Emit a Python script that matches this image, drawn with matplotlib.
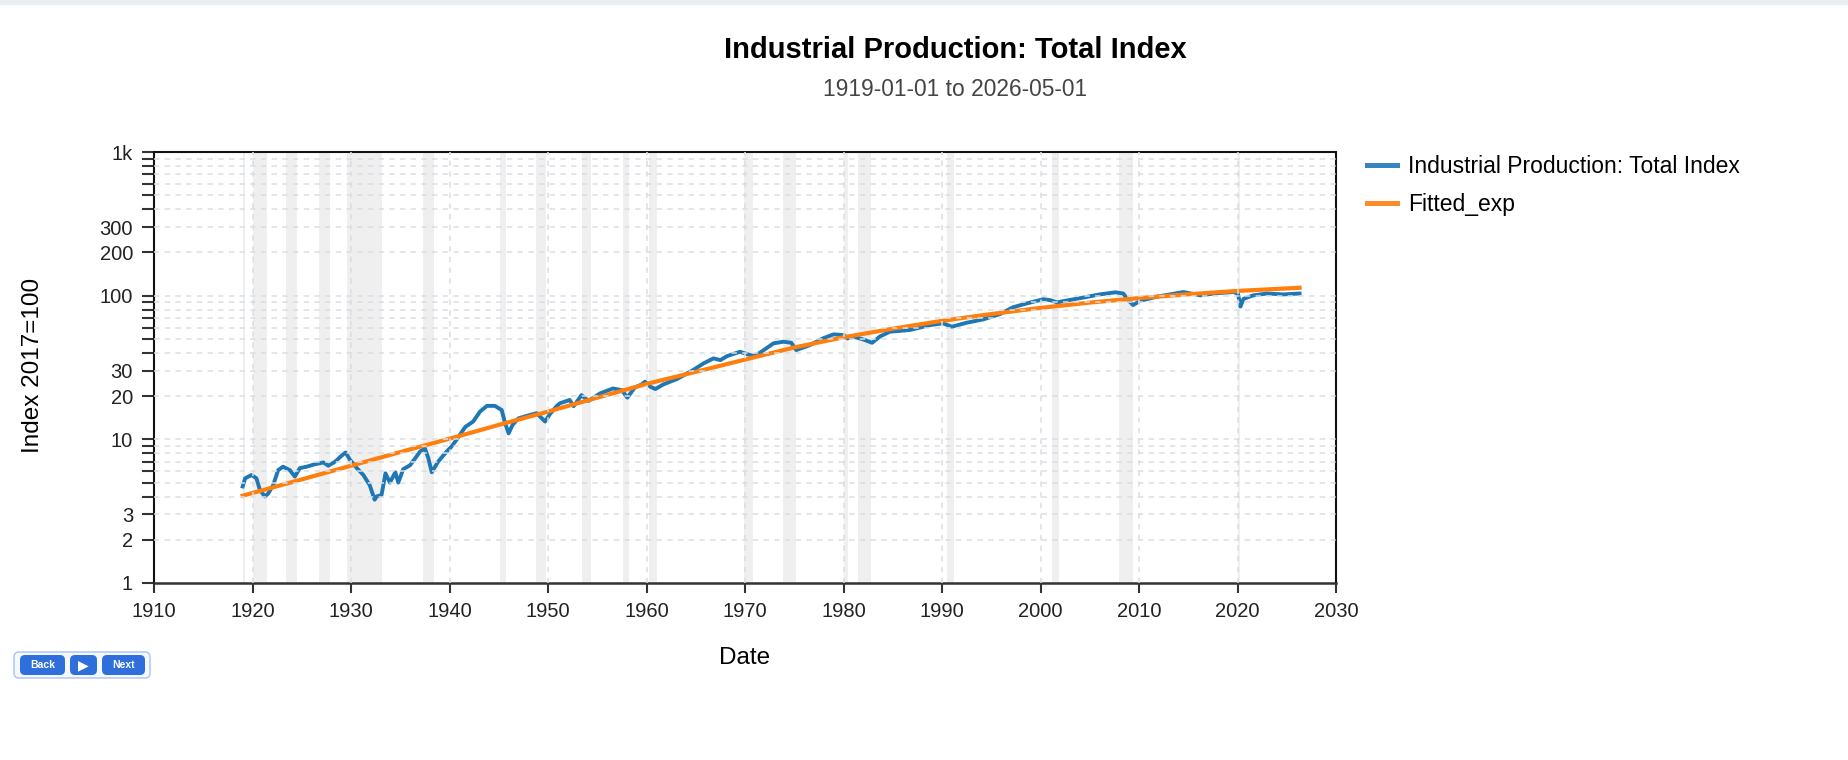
import numpy as np
import matplotlib.pyplot as plt
from matplotlib.lines import Line2D
from matplotlib.patches import FancyBboxPatch, Rectangle

plt.rcParams['font.family'] = ['Liberation Sans', 'DejaVu Sans']

# values (decimal years, index 2017=100)
ip_years = [1919.0, 1919.25, 1919.9, 1920.4, 1920.75, 1921.25, 1921.6, 1922.1, 1922.6, 1923.1,
            1923.8, 1924.3, 1924.8, 1925.5, 1926.3, 1927.2, 1927.7, 1928.4, 1929.05, 1929.45,
            1929.9, 1930.6, 1931.25, 1931.9, 1932.4, 1932.6, 1933.1, 1933.5, 1933.95, 1934.5,
            1934.8, 1935.3, 1936.0, 1937.0, 1937.5, 1937.85, 1938.2, 1938.85, 1939.7, 1940.2,
            1940.7, 1941.6, 1942.4, 1943.1, 1943.8, 1944.6, 1945.3, 1945.6, 1946.0, 1946.4,
            1947.0, 1948.2, 1948.85, 1949.7, 1950.2, 1950.9, 1951.2, 1952.2, 1952.6, 1953.4,
            1954.1, 1955.3, 1956.6, 1957.5, 1958.05, 1958.8, 1959.5, 1959.85, 1960.4, 1960.9,
            1961.7, 1963.1, 1964.75, 1965.8, 1966.8, 1967.5, 1968.2, 1969.5, 1970.3, 1970.9,
            1971.5, 1972.9, 1973.9, 1974.7, 1975.2, 1976.6, 1977.9, 1979.0, 1980.0, 1980.4,
            1981.0, 1982.0, 1982.9, 1983.7, 1984.7, 1986.75, 1988.8, 1990.1, 1991.0, 1992.5,
            1994.2, 1995.9, 1997.2, 1998.6, 2000.3, 2001.0, 2001.7, 2002.65, 2004.35, 2006.0,
            2007.6, 2008.4, 2008.9, 2009.4, 2010.1, 2011.8, 2014.5, 2016.2, 2017.9, 2019.6,
            2020.05, 2020.3, 2020.6, 2021.6, 2023.0, 2024.65, 2026.3]
ip_values = [4.7, 5.35, 5.65, 5.35, 4.45, 4.0, 4.2, 4.8, 6.1, 6.45,
             6.1, 5.5, 6.3, 6.45, 6.7, 6.9, 6.55, 7.0, 7.7, 8.1,
             7.2, 6.3, 5.65, 4.8, 3.8, 4.0, 4.1, 5.8, 5.0, 5.9,
             5.0, 6.2, 6.6, 8.2, 8.65, 7.4, 5.9, 7.0, 8.2, 8.9,
             9.9, 12.2, 13.3, 15.6, 17.1, 17.1, 16.0, 13.3, 11.0, 12.6,
             14.0, 14.8, 15.2, 13.3, 15.0, 17.1, 17.8, 18.8, 17.0, 20.3,
             18.5, 20.9, 22.6, 22.0, 19.5, 22.9, 24.1, 25.2, 23.2, 22.4,
             24.1, 26.3, 30.4, 33.8, 36.6, 35.6, 38.0, 40.7, 39.0, 38.0,
             40.0, 46.6, 47.8, 47.0, 41.8, 45.3, 50.4, 53.8, 53.2, 50.4,
             51.8, 49.6, 47.0, 52.0, 56.1, 57.7, 62.4, 64.2, 60.8, 64.8,
             68.4, 74.5, 83.0, 88.3, 94.5, 93.0, 89.8, 92.5, 97.0, 102.0,
             105.5, 103.5, 93.2, 86.0, 92.0, 98.3, 106.0, 100.5, 104.0, 106.0,
             103.0, 84.0, 95.0, 100.5, 103.5, 102.0, 103.5]

fit_years = [1919, 1925, 1930, 1935, 1940, 1945, 1950, 1955, 1960, 1965, 1970,
             1975, 1980, 1985, 1990, 1995, 2000, 2005, 2010, 2015, 2020, 2026.3]
fit_values = [4.05, 5.26, 6.55, 8.15, 10.1, 12.6, 15.6, 19.5, 24.3, 29.5, 35.9,
              43.6, 51.3, 58.9, 66.8, 74.5, 82.2, 89.5, 96.2, 102.3, 107.9, 113.5]

recession_starts = [1919.0, 1920.0, 1923.37, 1926.75, 1929.58, 1937.33, 1945.08, 1948.83,
                    1953.5, 1957.58, 1960.25, 1969.92, 1973.83, 1980.0, 1981.5, 1990.5,
                    2001.17, 2007.92, 2020.08]
recession_ends = [1919.2, 1921.5, 1924.5, 1927.83, 1933.17, 1938.42, 1945.75, 1949.75,
                  1954.33, 1958.25, 1961.08, 1970.83, 1975.17, 1980.5, 1982.83, 1991.17,
                  2001.83, 2009.42, 2020.25]

y_ticks = [1, 2, 3, 4, 5, 6, 7, 8, 9, 10, 20, 30, 40, 50, 60, 70, 80, 90,
           100, 200, 300, 400, 500, 600, 700, 800, 900, 1000]
y_labels = {1: '1', 2: '2', 3: '3', 10: '10', 20: '20', 30: '30',
            100: '100', 200: '200', 300: '300', 1000: '1k'}
x_ticks = list(range(1910, 2031, 10))


def draw_buttons(fig):
    tr = fig.dpi_scale_trans  # inches, 100 px each
    fig.patches.append(FancyBboxPatch((0.14, 0.82), 1.36, 0.26,
                                      boxstyle='round,pad=0,rounding_size=0.05',
                                      fc='#f5f8ff', ec='#a9c2f3', lw=1.0, transform=tr))
    buttons = [('Back', 0.20, 0.45, 7.5), ('\u25b6', 0.70, 0.27, 10), ('Next', 1.02, 0.43, 7.5)]
    for label, x0, w, fs in buttons:
        fig.patches.append(FancyBboxPatch((x0, 0.85), w, 0.20,
                                          boxstyle='round,pad=0,rounding_size=0.05',
                                          fc='#2e6fdc', ec='none', transform=tr))
        fig.text(x0 + w / 2, 0.95, label, transform=tr, ha='center', va='center',
                 color='white', fontsize=fs, fontweight='bold')


def main():
    fig = plt.figure(figsize=(18.48, 7.6), dpi=100)
    fig.patches.append(Rectangle((0, 0.994), 1, 0.006, transform=fig.transFigure,
                                 fc='#eaeef2', ec='none'))
    ax = fig.add_axes([154 / 1848, 1 - 583 / 760, (1336 - 154) / 1848, (583 - 152) / 760])

    for s, e in zip(recession_starts, recession_ends):
        ax.axvspan(s, e, color='#efefef', lw=0, zorder=0.5)

    ax.plot(ip_years, ip_values, color='#1f77b4', lw=2.8, zorder=2, solid_joinstyle='round')
    ax.plot(fit_years, fit_values, color='#ff7f0e', lw=3.0, zorder=2.1)

    # dashed grid drawn above the lines, like the original
    for yv in y_ticks[1:-1]:
        ax.axhline(yv, color='#dadee4', lw=1.1, ls=(0, (3.5, 3.5)), zorder=3)
    for xv in x_ticks[1:-1]:
        ax.axvline(xv, color='#dadee4', lw=1.1, ls=(0, (3.5, 3.5)), zorder=3)

    ax.set_yscale('log')
    ax.set_xlim(1910, 2030)
    ax.set_ylim(1, 1000)
    ax.set_xticks(x_ticks)
    ax.set_yticks(y_ticks)
    ax.set_yticklabels([y_labels.get(v, '') for v in y_ticks])
    ax.yaxis.set_minor_locator(plt.NullLocator())
    ax.tick_params(axis='y', length=8.6, width=1.5, color='#333333', pad=6.5,
                   labelsize=14.5, labelcolor='#222222')
    ax.tick_params(axis='x', length=7.2, width=1.5, color='#333333', pad=6.5,
                   labelsize=14.5, labelcolor='#222222')

    for side in ['left', 'top', 'right']:
        ax.spines[side].set_linestyle((0, (2, 1)))
        ax.spines[side].set_linewidth(1.5)
        ax.spines[side].set_color('#111111')
    ax.spines['bottom'].set_linewidth(1.8)
    ax.spines['bottom'].set_color('#333333')

    fig.text(955 / 1848, 1 - 50.5 / 760, 'Industrial Production: Total Index',
             ha='center', va='center', fontsize=21, fontweight='bold')
    fig.text(955 / 1848, 1 - 89.5 / 760, '1919-01-01 to 2026-05-01',
             ha='center', va='center', fontsize=16.4, color='#444444')
    fig.text(745 / 1848, 1 - 658 / 760, 'Date', ha='center', va='center', fontsize=17.5)
    fig.text(33 / 1848, 1 - 365 / 760, 'Index 2017=100', ha='center', va='center',
             rotation=90, fontsize=17.5)

    handles = [Line2D([], [], color='#3785c0', lw=3.6),
               Line2D([], [], color='#ff8c29', lw=3.6)]
    fig.legend(handles, ['Industrial Production: Total Index', 'Fitted_exp'],
               loc='upper left', bbox_to_anchor=(1367 / 1848, 1 - 155 / 760),
               frameon=False, fontsize=16.5, handlelength=1.3, handletextpad=0.5,
               labelspacing=0.65, borderpad=0, borderaxespad=0)

    draw_buttons(fig)
    fig.savefig('out.png', dpi=100)


if __name__ == "__main__":
    main()
